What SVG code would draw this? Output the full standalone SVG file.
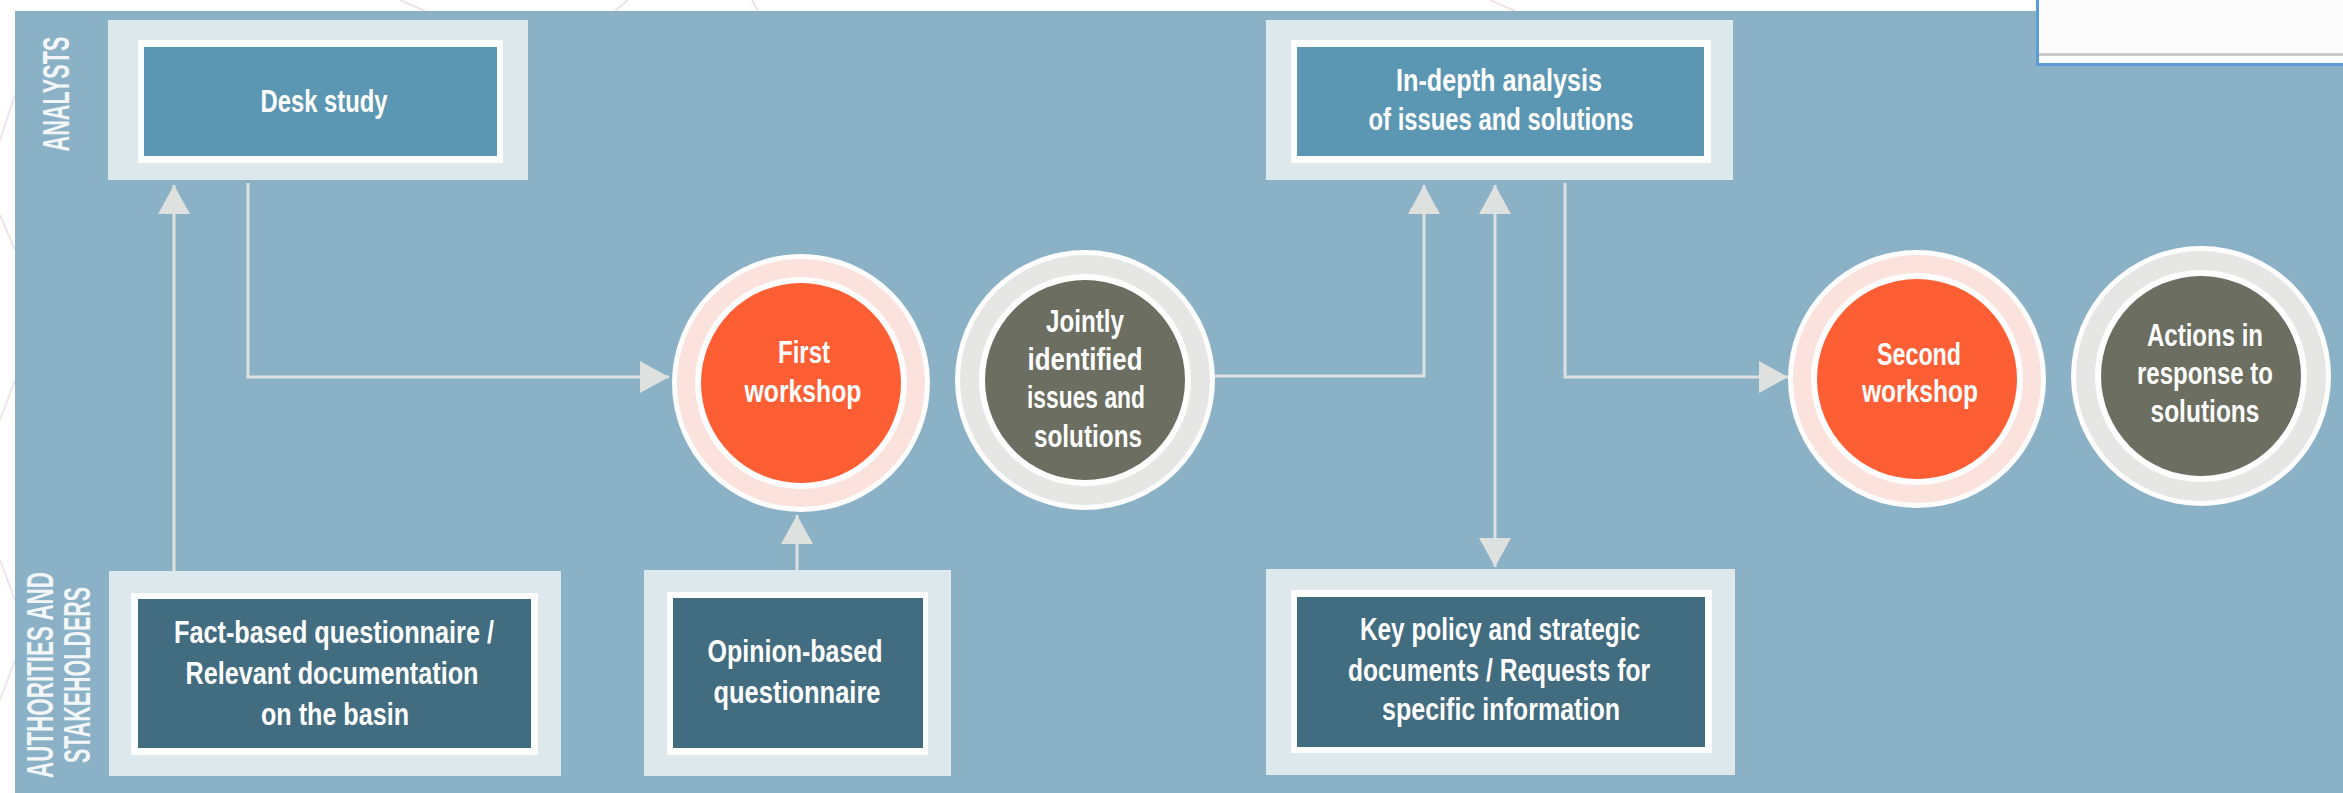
<svg xmlns="http://www.w3.org/2000/svg" width="2343" height="793" viewBox="0 0 2343 793">
  <defs>
    <style>
      .frame { fill: #dde8ed; }
      .mat { fill: #fcfdfd; }
      .top { fill: #5b97b2; }
      .bottom { fill: #426c7f; }
      .ring-w { fill: #fdfdfd; }
      .ring-pink { fill: #fbe2dc; }
      .ring-grey { fill: #e6e7e5; }
      .core-orange { fill: #fd5e33; }
      .core-olive { fill: #6b6e60; }
      .label { font-family: "Liberation Sans", Arial, sans-serif; font-weight: bold; font-size: 31px; fill: #ffffff; text-anchor: middle; }
      .lane { font-family: "Liberation Sans", Arial, sans-serif; font-weight: bold; font-size: 36px; fill: #f2f6f8; text-anchor: middle; }
      .wire { fill: none; stroke: #dfe1de; stroke-width: 3; }
      .faint { fill: none; stroke: #efe4e5; stroke-width: 2; }
    </style>
    <marker id="head" markerUnits="userSpaceOnUse" viewBox="0 0 29 32" refX="29" refY="16" markerWidth="29" markerHeight="32" orient="auto-start-reverse">
      <path d="M0 0 L29 16 L0 32 Z" fill="#dfe1de"/>
    </marker>
  </defs>

  <!-- page behind the panel -->
  <rect x="0" y="0" width="2343" height="793" fill="#ffffff"/>
  <g class="faint">
    <path d="M0 140 L15 95"/>
    <path d="M0 215 L15 250"/>
    <path d="M0 420 L15 380"/>
    <path d="M0 560 L15 600"/>
    <path d="M0 700 L15 660"/>
    <path d="M400 0 L425 11"/>
    <path d="M615 11 L628 0"/>
    <path d="M752 0 L758 11"/>
    <path d="M1490 0 L1515 11"/>
  </g>

  <!-- main panel -->
  <rect x="15" y="11" width="2328" height="782" fill="#8ab1c6"/>

  <!-- window overlay in the upper right corner -->
  <g id="corner-window">
    <rect x="2036" y="0" width="307" height="66" fill="#5a9bd8"/>
    <rect x="2039" y="0" width="304" height="63" fill="#fbfbfb"/>
    <rect x="2039" y="53" width="304" height="3" fill="#c9c9c9"/>
    <rect x="2039" y="56" width="304" height="7" fill="#ffffff"/>
  </g>

  <!-- swimlane titles -->
  <g id="lane-analysts">
    <text class="lane" transform="translate(69 94) rotate(-90)" textLength="115" lengthAdjust="spacingAndGlyphs">ANALYSTS</text>
  </g>
  <g id="lane-authorities">
    <text class="lane" transform="translate(53 675) rotate(-90)" textLength="206" lengthAdjust="spacingAndGlyphs">AUTHORITIES AND</text>
    <text class="lane" transform="translate(90 675) rotate(-90)" textLength="176" lengthAdjust="spacingAndGlyphs">STAKEHOLDERS</text>
  </g>

  <!-- connectors -->
  <g id="connectors">
    <path class="wire" d="M174 571 V185" marker-end="url(#head)"/>
    <path class="wire" d="M248 183 V377 H669" marker-end="url(#head)"/>
    <path class="wire" d="M797 570 V515" marker-end="url(#head)"/>
    <path class="wire" d="M1215 376 H1424 V185" marker-end="url(#head)"/>
    <path class="wire" d="M1495 185 V567" marker-start="url(#head)" marker-end="url(#head)"/>
    <path class="wire" d="M1565 183 V377 H1788" marker-end="url(#head)"/>
  </g>

  <!-- analysts lane -->
  <g id="desk-study">
    <rect class="frame" x="108" y="20" width="420" height="160"/>
    <rect class="mat" x="138" y="40" width="365" height="123"/>
    <rect class="top" x="144" y="47" width="353" height="109"/>
    <text class="label" x="324" y="112" textLength="127" lengthAdjust="spacingAndGlyphs">Desk study</text>
  </g>

  <g id="in-depth-analysis">
    <rect class="frame" x="1266" y="20" width="467" height="160"/>
    <rect class="mat" x="1291" y="40" width="420" height="123"/>
    <rect class="top" x="1297" y="47" width="407" height="109"/>
    <text class="label" x="1499" y="91" textLength="206" lengthAdjust="spacingAndGlyphs">In-depth analysis</text>
    <text class="label" x="1501" y="130" textLength="265" lengthAdjust="spacingAndGlyphs">of issues and solutions</text>
  </g>

  <!-- workshops and outcomes -->
  <g id="first-workshop">
    <circle class="ring-w" cx="801" cy="383" r="129"/>
    <circle class="ring-pink" cx="801" cy="383" r="124"/>
    <circle class="ring-w" cx="801" cy="383" r="106"/>
    <circle class="core-orange" cx="801" cy="383" r="100"/>
    <text class="label" x="804" y="363" textLength="52" lengthAdjust="spacingAndGlyphs">First</text>
    <text class="label" x="803" y="402" textLength="117" lengthAdjust="spacingAndGlyphs">workshop</text>
  </g>

  <g id="jointly-identified">
    <circle class="ring-w" cx="1085" cy="380" r="130"/>
    <circle class="ring-grey" cx="1085" cy="380" r="125"/>
    <circle class="ring-w" cx="1085" cy="380" r="106"/>
    <circle class="core-olive" cx="1085" cy="380" r="100"/>
    <text class="label" x="1085" y="332" textLength="78" lengthAdjust="spacingAndGlyphs">Jointly</text>
    <text class="label" x="1085" y="370" textLength="115" lengthAdjust="spacingAndGlyphs">identified</text>
    <text class="label" x="1086" y="408" textLength="118" lengthAdjust="spacingAndGlyphs">issues and</text>
    <text class="label" x="1088" y="447" textLength="108" lengthAdjust="spacingAndGlyphs">solutions</text>
  </g>

  <g id="second-workshop">
    <circle class="ring-w" cx="1917" cy="379" r="129"/>
    <circle class="ring-pink" cx="1917" cy="379" r="124"/>
    <circle class="ring-w" cx="1917" cy="379" r="106"/>
    <circle class="core-orange" cx="1917" cy="379" r="100"/>
    <text class="label" x="1919" y="365" textLength="84" lengthAdjust="spacingAndGlyphs">Second</text>
    <text class="label" x="1920" y="402" textLength="116" lengthAdjust="spacingAndGlyphs">workshop</text>
  </g>

  <g id="actions-in-response">
    <circle class="ring-w" cx="2201" cy="376" r="130"/>
    <circle class="ring-grey" cx="2201" cy="376" r="125"/>
    <circle class="ring-w" cx="2201" cy="376" r="106"/>
    <circle class="core-olive" cx="2201" cy="376" r="100"/>
    <text class="label" x="2205" y="346" textLength="116" lengthAdjust="spacingAndGlyphs">Actions in</text>
    <text class="label" x="2205" y="384" textLength="136" lengthAdjust="spacingAndGlyphs">response to</text>
    <text class="label" x="2205" y="422" textLength="109" lengthAdjust="spacingAndGlyphs">solutions</text>
  </g>

  <!-- authorities and stakeholders lane -->
  <g id="fact-based-questionnaire">
    <rect class="frame" x="109" y="571" width="452" height="205"/>
    <rect class="mat" x="131" y="593" width="407" height="162"/>
    <rect class="bottom" x="138" y="599" width="393" height="149"/>
    <text class="label" x="334" y="643" textLength="320" lengthAdjust="spacingAndGlyphs">Fact-based questionnaire /</text>
    <text class="label" x="332" y="684" textLength="293" lengthAdjust="spacingAndGlyphs">Relevant documentation</text>
    <text class="label" x="335" y="725" textLength="148" lengthAdjust="spacingAndGlyphs">on the basin</text>
  </g>

  <g id="opinion-based-questionnaire">
    <rect class="frame" x="644" y="570" width="307" height="206"/>
    <rect class="mat" x="667" y="592" width="261" height="163"/>
    <rect class="bottom" x="673" y="598" width="250" height="150"/>
    <text class="label" x="795" y="662" textLength="175" lengthAdjust="spacingAndGlyphs">Opinion-based</text>
    <text class="label" x="797" y="703" textLength="167" lengthAdjust="spacingAndGlyphs">questionnaire</text>
  </g>

  <g id="key-policy-documents">
    <rect class="frame" x="1266" y="569" width="469" height="206"/>
    <rect class="mat" x="1291" y="590" width="421" height="163"/>
    <rect class="bottom" x="1297" y="597" width="408" height="150"/>
    <text class="label" x="1500" y="640" textLength="280" lengthAdjust="spacingAndGlyphs">Key policy and strategic</text>
    <text class="label" x="1499" y="681" textLength="302" lengthAdjust="spacingAndGlyphs">documents / Requests for</text>
    <text class="label" x="1501" y="720" textLength="238" lengthAdjust="spacingAndGlyphs">specific information</text>
  </g>
</svg>
